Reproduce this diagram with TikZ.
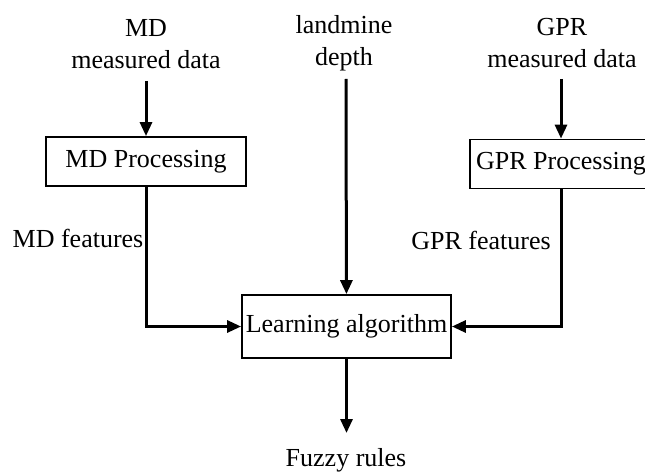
\documentclass[tikz,border=0pt]{standalone}
\usepackage{fontspec}
\setmainfont{Liberation Serif}
\usetikzlibrary{arrows.meta,positioning}

\begin{document}
\begin{tikzpicture}[x=1pt, y=-1pt, font=\fontsize{26}{32}\selectfont,
    box/.style={draw, line width=1.8pt, minimum height=49pt, inner sep=0pt},
    flow/.style={line width=3pt, -{Triangle[length=14pt,width=12pt]}}]

    \useasboundingbox (0,0) rectangle (645,473);

    % --- 1. inputs at the top ---
    \node[align=center] (mdin)    at (146,44) {MD\\measured data};
    \node[align=center] (depthin) at (344,43) {landmine\\depth};
    \node[align=center] (gprin)   at (562,43) {GPR\\measured data};

    % start points of the input arrows
    \coordinate (mdtop)    at (146,81);
    \coordinate (depthtop) at (346,79);
    \coordinate (gprtop)   at (561,79);

    % --- 2. processing boxes ---
    \node[box, minimum width=200pt] (mdbox)  at (146,161.5) {MD Processing};
    \node[box, minimum width=182pt] (gprbox) at (561,164)   {GPR Processing};

    % --- 3. learning box and output ---
    \node[box, minimum width=209pt, minimum height=63pt] (learn) at (346.5,326.5) {Learning algorithm};
    \coordinate (fuzzytop) at (346.5,433);
    \node (fuzzy) at (346,460) {Fuzzy rules};

    % feature labels
    \node (mdfeat)  at (78,238)  {MD features};
    \node (gprfeat) at (481,240) {GPR features};

    % --- 4. connectors ---
    \draw[flow] (mdtop) -- (mdbox);
    \draw[flow] (gprtop) -- (gprbox);
    \draw[flow] (depthtop) -- (learn);
    \draw[flow] (mdbox.south) |- (learn.west);
    \draw[flow] (gprbox.south) |- (learn.east);
    \draw[flow] (learn.south) -- (fuzzytop);

\end{tikzpicture}
\end{document}
